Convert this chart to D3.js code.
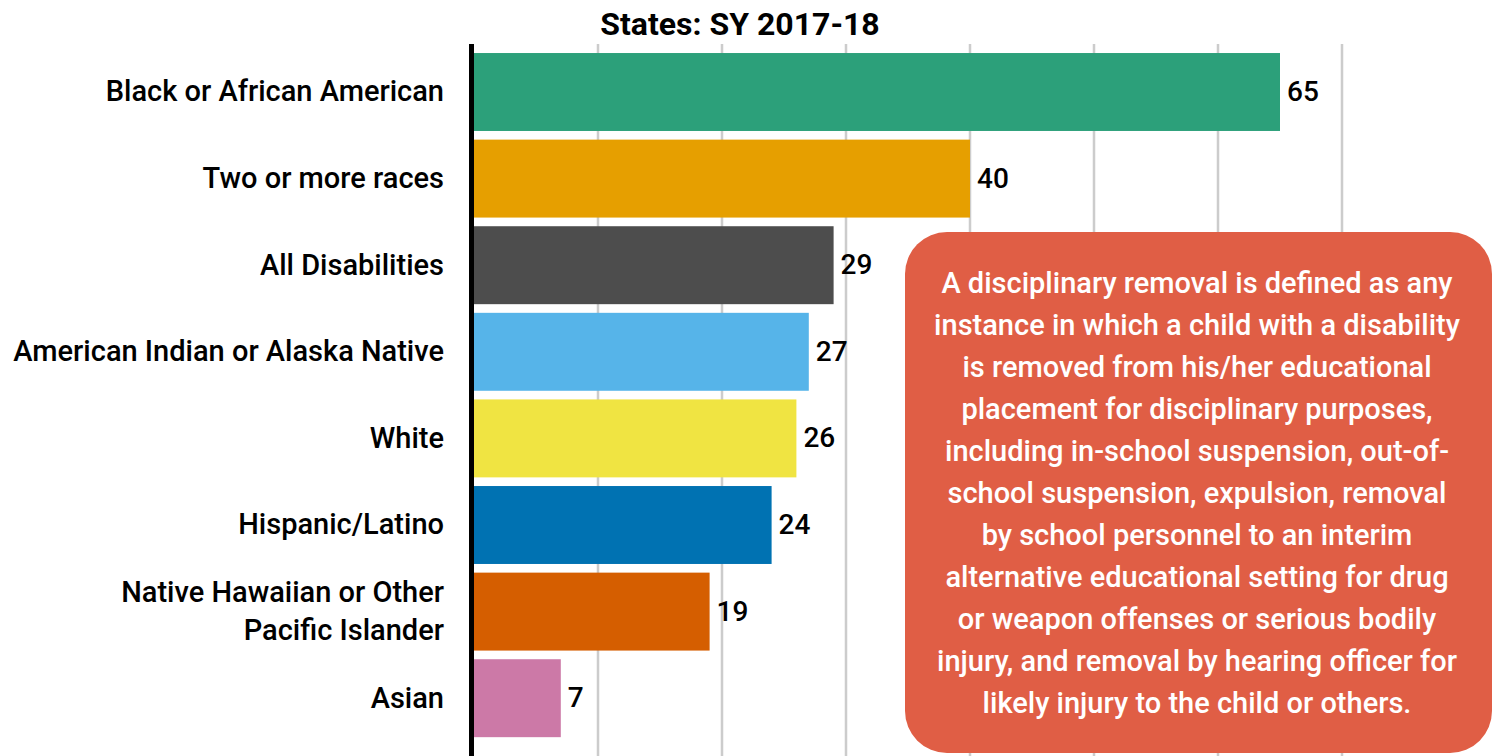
<!DOCTYPE html>
<html><head><meta charset="utf-8">
<script src="https://cdn.jsdelivr.net/npm/d3@7"></script>
<style>body{margin:0;background:#fff;font-family:Roboto,sans-serif}</style>
</head><body><svg id="c" width="1495" height="756"></svg>
<script>
const categories = ["Black or African American","Two or more races","All Disabilities","American Indian or Alaska Native","White","Hispanic/Latino","Native Hawaiian or Other Pacific Islander","Asian"];
const labelLines = [["Black or African American"],["Two or more races"],["All Disabilities"],["American Indian or Alaska Native"],["White"],["Hispanic/Latino"],["Native Hawaiian or Other","Pacific Islander"],["Asian"]];
const values = [65,40,29,27,26,24,19,7];
const colors = ["#2CA07A","#E69F00","#4D4D4D","#56B4E9","#F0E442","#0072B2","#D55E00","#CC79A7"];
const ticks = [10,20,30,40,50,60,70];
const title = "States: SY 2017-18";
const note = ["A disciplinary removal is defined as any","instance in which a child with a disability","is removed from his/her educational","placement for disciplinary purposes,","including in-school suspension, out-of-","school suspension, expulsion, removal","by school personnel to an interim","alternative educational setting for drug","or weapon offenses or serious bodily","injury, and removal by hearing officer for","likely injury to the child or others."];

const svg = d3.select("#c");
const x = d3.scaleLinear().domain([0,70]).range([474,1342]);
const y = d3.scaleBand().domain(categories).range([48.7,741.5]).paddingInner(0.1).paddingOuter(0.05);

// gridlines
svg.append("g").selectAll("line").data(ticks).join("line")
  .attr("x1",d=>x(d)).attr("x2",d=>x(d)).attr("y1",44).attr("y2",756)
  .attr("stroke","#cccccc").attr("stroke-width",2.5);

// bars
svg.append("g").selectAll("rect").data(values).join("rect")
  .attr("x",x(0)).attr("y",(d,i)=>y(categories[i]))
  .attr("width",d=>x(d)-x(0)).attr("height",y.bandwidth())
  .attr("fill",(d,i)=>colors[i]);

// axis line
svg.append("line").attr("x1",471.5).attr("x2",471.5).attr("y1",44).attr("y2",756)
  .attr("stroke","#000").attr("stroke-width",5);

// value labels
svg.append("g").selectAll("text").data(values).join("text")
  .attr("x",d=>x(d)+7).attr("y",(d,i)=>y(categories[i])+y.bandwidth()/2-1)
  .attr("dy","0.36em").attr("font-size",28).attr("font-weight",500).attr("fill","#000")
  .text(d=>d);

// category labels
const lg = svg.append("g");
labelLines.forEach((lines,i)=>{
  const cy = y(categories[i])+y.bandwidth()/2-1;
  const lh = 38;
  lines.forEach((t,j)=>{
    lg.append("text").attr("x",444).attr("y",cy+(j-(lines.length-1)/2)*lh)
      .attr("dy","0.36em").attr("text-anchor","end").attr("font-size",29).attr("font-weight",500)
      .attr("fill","#000").text(t);
  });
});

// title
svg.append("text").attr("x",740).attr("y",35).attr("text-anchor","middle")
  .attr("font-size",32).attr("font-weight",700).attr("fill","#000").text(title);

// note box
svg.append("rect").attr("x",905).attr("y",232).attr("width",587).attr("height",521)
  .attr("rx",42).attr("ry",42).attr("fill","#E05E45");
const ng = svg.append("g");
note.forEach((t,i)=>{
  ng.append("text").attr("x",1197).attr("y",283+i*42).attr("dy","0.36em")
    .attr("text-anchor","middle").attr("font-size",29).attr("font-weight",500)
    .attr("fill","#fff").text(t);
});
</script></body></html>
